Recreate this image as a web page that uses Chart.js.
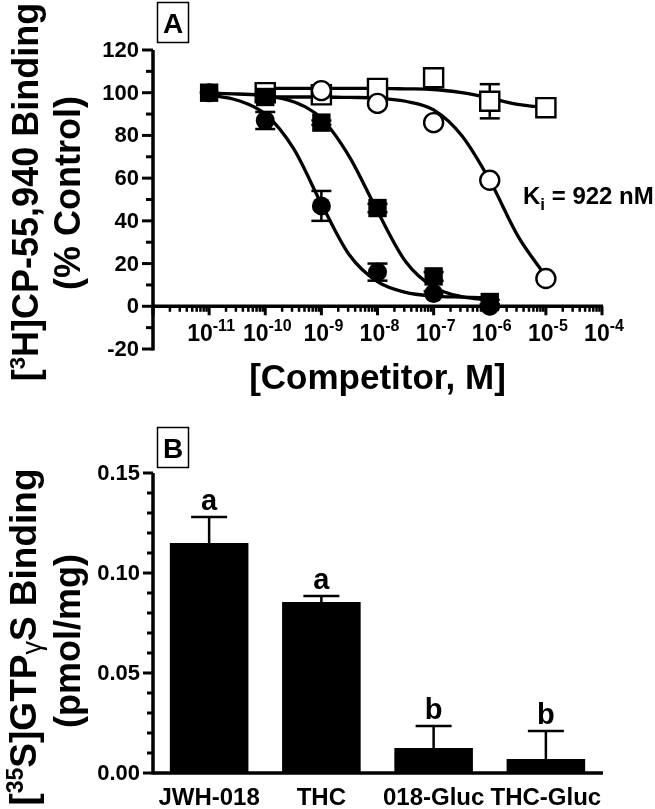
<!DOCTYPE html>
<html><head><meta charset="utf-8">
<script src="https://cdn.jsdelivr.net/npm/chart.js@4.4.1/dist/chart.umd.min.js"></script>
<style>
html,body{margin:0;padding:0;background:#fff;}
#wrap{position:relative;width:655px;height:809px;overflow:hidden;background:#fff;}
#boxA{position:absolute;left:0;top:0;width:655px;height:400px;}
#boxB{position:absolute;left:0;top:400px;width:655px;height:409px;}
canvas{display:block;}
</style></head><body>
<div id="wrap"><div id="boxA"><canvas id="cA" width="655" height="400"></canvas></div><div id="boxB"><canvas id="cB" width="655" height="409"></canvas></div></div>
<script>
const FONT = "'Liberation Sans', Arial, Helvetica, sans-serif";

// ---------- Panel A: competition binding ----------
const concFilledCircle = [1e-11, 1e-10, 1e-9, 1e-8, 1e-7, 1e-6];
const bindFilledCircle = [100, 87, 47, 16, 6, 0];
const errFilledCircle  = [0, 4, 7, 4, 1, 1];

const concFilledSquare = [1e-11, 1e-10, 1e-9, 1e-8, 1e-7, 1e-6];
const bindFilledSquare = [100, 98, 86, 46, 14, 2];
const errFilledSquare  = [0, 2, 1, 2, 2, 1];

const concOpenCircle = [1e-9, 1e-8, 1e-7, 1e-6, 1e-5];
const bindOpenCircle = [101, 95, 86, 59, 13];
const errOpenCircle  = [0, 0, 0, 0, 0];

const concOpenSquare = [1e-10, 1e-9, 1e-8, 1e-7, 1e-6, 1e-5];
const bindOpenSquare = [100, 99, 102, 107, 96, 93];
const errOpenSquare  = [0, 0, 2, 0, 8, 1];

// fitted curves at half-decade steps (log10 M)
const curveLogFilledCircle = [-11, -10.5, -10, -9.5, -9, -8.5, -8, -7.5, -7, -6.5, -6];
const curveFilledCircle    = [99, 96.5, 90, 74, 48, 24, 11.5, 6.5, 4.8, 4.3, 4];
const curveLogFilledSquare = [-11, -10.5, -10, -9.5, -9, -8.5, -8, -7.5, -7, -6.5, -6];
const curveFilledSquare    = [99.8, 99.4, 98.6, 95.8, 88, 70, 44.5, 21, 9, 4.5, 3];
const curveLogOpenCircle   = [-10, -9.5, -9, -8.5, -8, -7.5, -7, -6.5, -6, -5.5, -5];
const curveOpenCircle      = [98, 98, 98, 97.8, 97.5, 96, 92, 80, 59, 33, 14];
const curveLogOpenSquare   = [-10, -9, -8, -7.5, -7, -6.5, -6, -5.5, -5];
const curveOpenSquare      = [102, 102, 102, 101.8, 101.5, 100, 97.5, 94.5, 93];

const xDecadesA = [-12, -11, -10, -9, -8, -7, -6, -5, -4];
const xLabelExpA = ['-11', '-10', '-9', '-8', '-7', '-6', '-5', '-4'];
const yTicksA = [120, 100, 80, 60, 40, 20, 0, -20];
const kiText = ' = 922 nM';

// ---------- Panel B: GTPyS binding ----------
const categoriesB = ['JWH-018', 'THC', '018-Gluc', 'THC-Gluc'];
const meanB = [0.115, 0.0855, 0.0125, 0.007];
const semB  = [0.013, 0.003, 0.011, 0.014];
const lettersB = ['a', 'a', 'b', 'b'];
const yTicksB = ['0.00', '0.05', '0.10', '0.15'];

// ---------- helpers ----------
function rich(ctx, parts, x, y, rot, align) {
  ctx.save();
  ctx.translate(x, y);
  if (rot) ctx.rotate(rot);
  let total = 0;
  parts.forEach(p => { ctx.font = `${p.w || 'bold'} ${p.s}px ${FONT}`; p.width = ctx.measureText(p.t).width; total += p.width; });
  let cx = align === 'center' ? -total / 2 : (align === 'right' ? -total : 0);
  ctx.textAlign = 'left'; ctx.textBaseline = 'alphabetic'; ctx.fillStyle = '#000';
  parts.forEach(p => { ctx.font = `${p.w || 'bold'} ${p.s}px ${FONT}`; ctx.fillText(p.t, cx, p.dy || 0); cx += p.width; });
  ctx.restore();
}
function line(ctx, x1, y1, x2, y2, w) {
  ctx.beginPath(); ctx.lineWidth = w; ctx.strokeStyle = '#000'; ctx.lineCap = 'butt';
  ctx.moveTo(x1, y1); ctx.lineTo(x2, y2); ctx.stroke();
}
function pts(xs, ys) { return xs.map((x, i) => ({x: x, y: ys[i]})); }
function curvePts(ls, ys) { return ls.map((l, i) => ({x: Math.pow(10, l), y: ys[i]})); }

// ---------- Panel A chart ----------
const panelA = {
  id: 'panelA',
  beforeDatasetsDraw(chart) {
    const ctx = chart.ctx, xs = chart.scales.x, ys = chart.scales.y, a = chart.chartArea;
    const y0 = ys.getPixelForValue(0);
    ctx.save();
    line(ctx, a.left, a.top, a.left, a.bottom + 1.5, 3.5);
    for (let v = -20; v <= 120; v += 10) {
      const py = ys.getPixelForValue(v);
      const major = v % 20 === 0;
      line(ctx, a.left - (major ? 11 : 7), py, a.left, py, 3);
    }
    line(ctx, a.left, y0, a.right + 1, y0, 3.5);
    for (let d = xDecadesA[0]; d < xDecadesA[xDecadesA.length - 1]; d++) {
      for (let k = 2; k <= 9; k++) {
        const px = xs.getPixelForValue(k * Math.pow(10, d));
        line(ctx, px, y0, px, y0 + 5.5, 2.5);
      }
    }
    xDecadesA.forEach(d => {
      const px = xs.getPixelForValue(Math.pow(10, d));
      line(ctx, px, y0, px, y0 + 9, 3);
    });
    ctx.restore();
  },
  beforeDatasetDraw(chart, args) {
    const ds = chart.data.datasets[args.index];
    if (!ds.err) return;
    const ctx = chart.ctx, xs = chart.scales.x, ys = chart.scales.y;
    ctx.save();
    ds.data.forEach((p, i) => {
      const e = ds.err[i]; if (!e) return;
      const px = xs.getPixelForValue(p.x);
      const t = ys.getPixelForValue(p.y + e), b = ys.getPixelForValue(p.y - e);
      line(ctx, px, t, px, b, 2.5);
      line(ctx, px - 10, t, px + 10, t, 2.5);
      line(ctx, px - 10, b, px + 10, b, 2.5);
    });
    ctx.restore();
  },
  afterDraw(chart) {
    const ctx = chart.ctx, xs = chart.scales.x, ys = chart.scales.y, a = chart.chartArea;
    ctx.save();
    ctx.fillStyle = '#000';
    ctx.font = `bold 22px ${FONT}`; ctx.textAlign = 'right'; ctx.textBaseline = 'middle';
    yTicksA.forEach(v => ctx.fillText(String(v), a.left - 14, ys.getPixelForValue(v) + 1));
    xLabelExpA.forEach(ex => {
      const px = xs.getPixelForValue(Math.pow(10, Number(ex)));
      rich(ctx, [{t: '10', s: 23}, {t: ex, s: 16, dy: -10}], px + 2, 341, 0, 'center');
    });
    rich(ctx, [{t: '[Competitor, M]', s: 35}], (a.left + a.right) / 2, 389, 0, 'center');
    rich(ctx, [{t: '[', s: 36}, {t: '3', s: 22, dy: -13}, {t: 'H]CP-55,940 Binding', s: 36}], 38, 192, -Math.PI / 2, 'center');
    rich(ctx, [{t: '(% Control)', s: 36}], 80, 193, -Math.PI / 2, 'center');
    rich(ctx, [{t: 'K', s: 24}, {t: 'i', s: 17, dy: 6}, {t: kiText, s: 24}], 523, 204, 0, 'left');
    ctx.lineWidth = 1.5; ctx.strokeStyle = '#000';
    ctx.strokeRect(157.5, 2.5, 31, 40);
    ctx.font = `bold 28px ${FONT}`; ctx.textAlign = 'center'; ctx.textBaseline = 'alphabetic';
    ctx.fillText('A', 173, 33);
    ctx.restore();
  }
};

function scatterSet(xs, ys, errs, style, filled, radius, order) {
  return {
    data: pts(xs, ys), err: errs, showLine: false, order: order,
    pointStyle: style, pointRadius: radius, pointHoverRadius: radius,
    pointBackgroundColor: filled ? '#000' : '#fff', pointBorderColor: '#000',
    pointBorderWidth: filled ? 0 : 2.4
  };
}
function curveSet(ls, ys) {
  return {
    data: curvePts(ls, ys), showLine: true, pointRadius: 0, borderColor: '#000',
    borderWidth: 3.3, cubicInterpolationMode: 'monotone', fill: false, order: 10
  };
}

new Chart(document.getElementById('cA'), {
  type: 'scatter',
  data: {
    datasets: [
      curveSet(curveLogFilledCircle, curveFilledCircle),
      curveSet(curveLogFilledSquare, curveFilledSquare),
      curveSet(curveLogOpenCircle, curveOpenCircle),
      curveSet(curveLogOpenSquare, curveOpenSquare),
      scatterSet(concOpenSquare, bindOpenSquare, errOpenSquare, 'rect', false, 13.5, 4),
      scatterSet(concOpenCircle, bindOpenCircle, errOpenCircle, 'circle', false, 9.5, 3),
      scatterSet(concFilledSquare, bindFilledSquare, errFilledSquare, 'rect', true, 13, 2),
      scatterSet(concFilledCircle, bindFilledCircle, errFilledCircle, 'circle', true, 9.5, 1)
    ]
  },
  options: {
    responsive: false, animation: false, events: [],
    layout: {padding: {left: 153, right: 53, top: 50, bottom: 51}},
    plugins: {legend: {display: false}, tooltip: {enabled: false}, title: {display: false}},
    scales: {
      x: {type: 'logarithmic', min: 1e-12, max: 1e-4, display: false},
      y: {type: 'linear', min: -20, max: 120, display: false}
    }
  },
  plugins: [panelA]
});

// ---------- Panel B chart ----------
const panelB = {
  id: 'panelB',
  beforeDatasetsDraw(chart) {
    const ctx = chart.ctx, ys = chart.scales.y, a = chart.chartArea;
    ctx.save();
    line(ctx, a.left, a.top, a.left, a.bottom + 1.5, 3.5);
    for (let i = 0; i <= 15; i++) {
      const py = ys.getPixelForValue(i / 100);
      const major = i % 5 === 0;
      line(ctx, a.left - (major ? 10 : 6), py, a.left, py, 3);
    }
    ctx.restore();
  },
  afterDatasetsDraw(chart) {
    const ctx = chart.ctx, xs = chart.scales.x, ys = chart.scales.y, a = chart.chartArea;
    ctx.save();
    line(ctx, a.left, a.bottom, a.right + 1, a.bottom, 3.5);
    meanB.forEach((m, i) => {
      const px = xs.getPixelForValue(i);
      const top = ys.getPixelForValue(m + semB[i]);
      const barTop = ys.getPixelForValue(m);
      line(ctx, px, barTop, px, top, 2.5);
      line(ctx, px - 18, top, px + 18, top, 2.5);
      ctx.fillStyle = '#000';
      ctx.font = `bold 29px ${FONT}`; ctx.textAlign = 'center'; ctx.textBaseline = 'alphabetic';
      ctx.fillText(lettersB[i], px, top - 7);
    });
    ctx.restore();
  },
  afterDraw(chart) {
    const ctx = chart.ctx, xs = chart.scales.x, ys = chart.scales.y, a = chart.chartArea;
    ctx.save();
    ctx.fillStyle = '#000';
    ctx.font = `bold 22px ${FONT}`; ctx.textAlign = 'right'; ctx.textBaseline = 'middle';
    yTicksB.forEach(t => ctx.fillText(t, a.left - 13, ys.getPixelForValue(Number(t)) + 1));
    ctx.font = `bold 24px ${FONT}`; ctx.textAlign = 'center'; ctx.textBaseline = 'alphabetic';
    categoriesB.forEach((c, i) => ctx.fillText(c, xs.getPixelForValue(i), 405));
    rich(ctx, [{t: '[', s: 37}, {t: '35', s: 23, dy: -13}, {t: 'S]GTP', s: 37}, {t: 'γ', s: 27, w: 'normal', dy: 5}, {t: 'S Binding', s: 37}], 36, 237, -Math.PI / 2, 'center');
    rich(ctx, [{t: '(pmol/mg)', s: 36}], 80, 241, -Math.PI / 2, 'center');
    ctx.lineWidth = 1.5; ctx.strokeStyle = '#000';
    ctx.strokeRect(157.5, 27.5, 31, 40);
    ctx.font = `bold 28px ${FONT}`; ctx.textAlign = 'center'; ctx.textBaseline = 'alphabetic';
    ctx.fillText('B', 173, 58);
    ctx.restore();
  }
};

new Chart(document.getElementById('cB'), {
  type: 'bar',
  data: {
    labels: categoriesB,
    datasets: [{data: meanB, backgroundColor: '#000', borderWidth: 0, barPercentage: 0.7, categoryPercentage: 1.0}]
  },
  options: {
    responsive: false, animation: false, events: [],
    layout: {padding: {left: 153, right: 53, top: 73, bottom: 36}},
    plugins: {legend: {display: false}, tooltip: {enabled: false}, title: {display: false}},
    scales: {
      x: {type: 'category', offset: true, display: false},
      y: {type: 'linear', min: 0, max: 0.15, display: false}
    }
  },
  plugins: [panelB]
});
</script>
</body></html>
